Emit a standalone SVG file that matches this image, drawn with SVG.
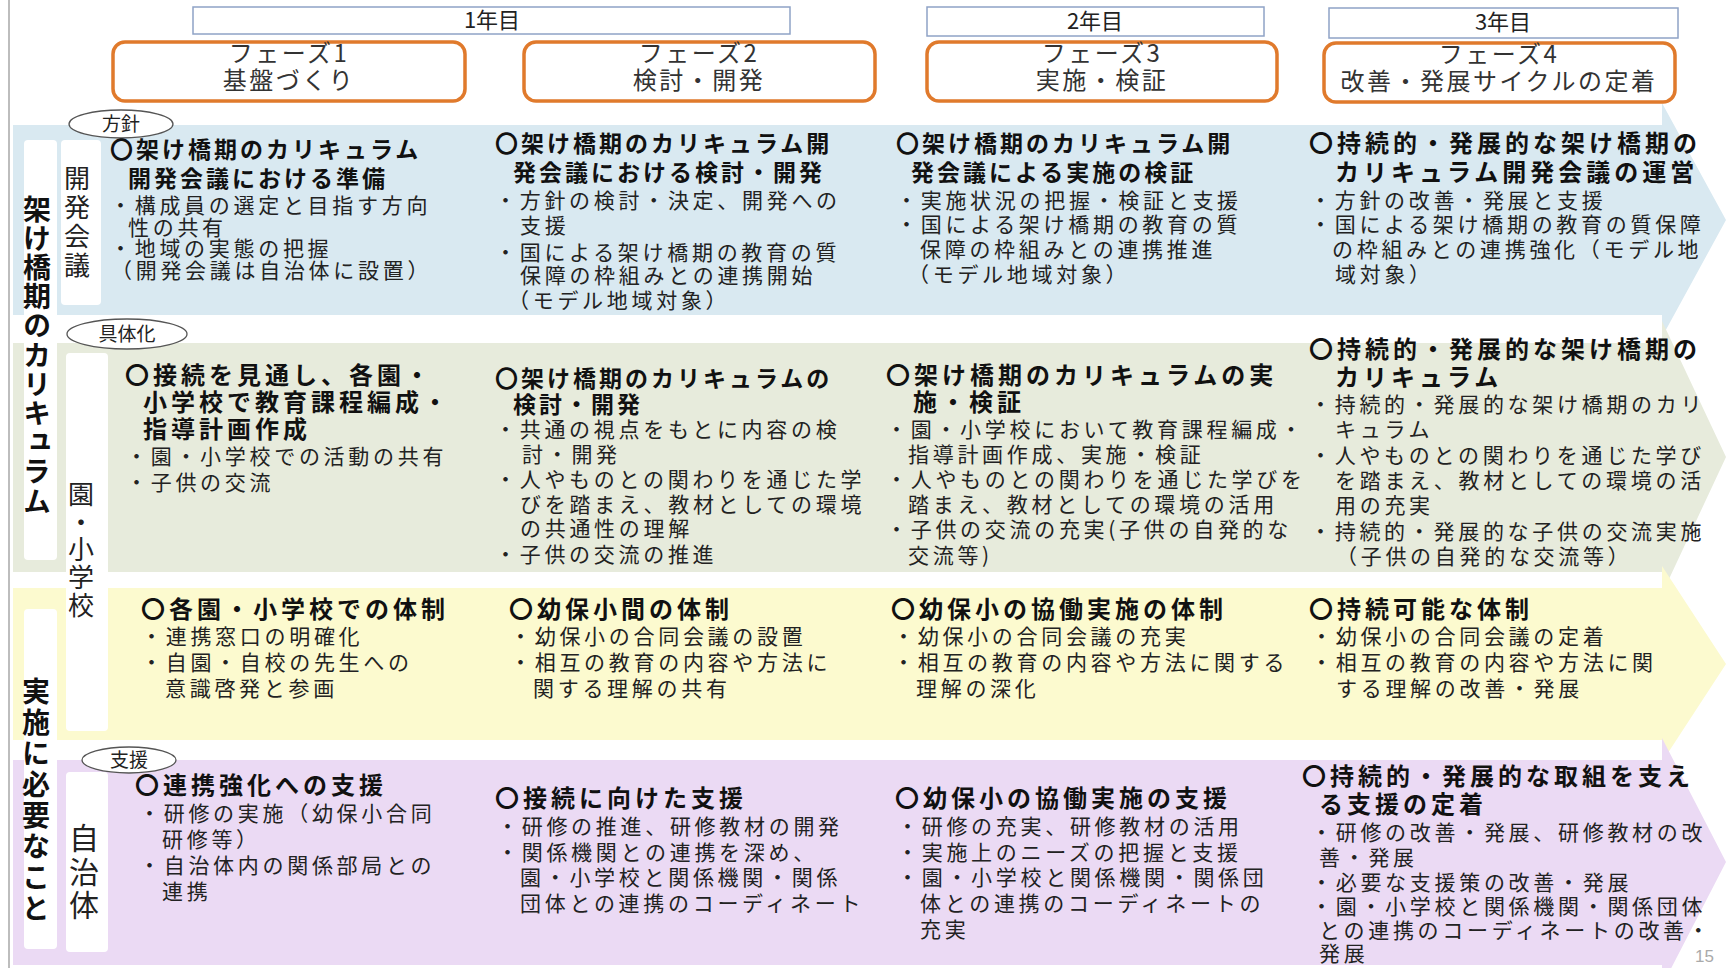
<svg xmlns="http://www.w3.org/2000/svg" width="1726" height="968" viewBox="0 0 1726 968">
<style>
text{font-family:"Noto Sans CJK JP","Noto Sans CJK SC",sans-serif;}
.yr{fill:#fff;stroke:#8fa3c6;stroke-width:1.5;}
.ph{fill:#fff;stroke:#e07a2c;stroke-width:3.5;}
.yt{font-size:22px;fill:#222;text-anchor:middle;}
.pt{font-size:24px;fill:#333;text-anchor:middle;letter-spacing:2.5px;}
.wc{fill:#fff;}
.el{fill:#fff;stroke:#555;stroke-width:1.3;}
.et{font-size:19px;fill:#222;text-anchor:middle;}
.t{font-size:23px;font-weight:700;letter-spacing:3px;fill:#111;}
.t2{font-size:24px;font-weight:700;letter-spacing:4px;fill:#111;}
.b{font-size:21px;letter-spacing:3.7px;fill:#222;}
.vl{font-size:28px;font-weight:700;fill:#111;writing-mode:vertical-rl;}
.vs{font-size:26px;fill:#222;writing-mode:vertical-rl;}
</style>
<rect x="0" y="0" width="1726" height="968" fill="#fff"/>
<line x1="9" y1="0" x2="9" y2="968" stroke="#bdbdbd" stroke-width="2"/>

<g id="bands">
<path id="band1" d="M13,125 H1662 V103 L1726,220 L1662,337 V315 H13 Z" fill="#d9e9f1"/>
<path id="band2" d="M13,343 H1662 V321 L1726,457 L1662,594 V572 H13 Z" fill="#e7ebdc"/>
<path id="band3" d="M13,588 H1662 V566 L1726,664 L1662,762 V740 H13 Z" fill="#fcfacf"/>
<path id="band4" d="M13,760 H1662 V738 L1726,862 L1662,986 V965 H13 Z" fill="#ebdaf4"/>
</g>

<g id="years">
<rect class="yr" x="193" y="7" width="597" height="27"/>
<text class="yt" x="492" y="28">1年目</text>
<rect class="yr" x="927" y="7" width="337" height="29"/>
<text class="yt" x="1095" y="29">2年目</text>
<rect class="yr" x="1329" y="8" width="349" height="30"/>
<text class="yt" x="1503" y="30">3年目</text>
</g>

<g id="phase1">
<rect class="ph" x="113" y="42" width="352" height="59" rx="12"/>
<text class="pt" x="289" y="62">フェーズ1</text>
<text class="pt" x="289" y="89">基盤づくり</text>
</g>
<g id="phase2">
<rect class="ph" x="524" y="42" width="351" height="59" rx="12"/>
<text class="pt" x="699" y="62">フェーズ2</text>
<text class="pt" x="699" y="89">検討・開発</text>
</g>
<g id="phase3">
<rect class="ph" x="927" y="42" width="350" height="59" rx="12"/>
<text class="pt" x="1102" y="62">フェーズ3</text>
<text class="pt" x="1102" y="89">実施・検証</text>
</g>
<g id="phase4">
<rect class="ph" x="1324" y="43" width="351" height="59" rx="12"/>
<text class="pt" x="1499" y="63">フェーズ4</text>
<text class="pt" x="1499" y="90">改善・発展サイクルの定着</text>
</g>

<g id="labels">
<rect class="wc" x="24" y="140" width="33" height="420" rx="4"/>
<rect class="wc" x="24" y="609" width="33" height="340" rx="4"/>
<rect class="wc" x="61" y="140" width="40" height="165" rx="4"/>
<rect class="wc" x="66" y="353" width="42" height="378" rx="4"/>
<rect class="wc" x="66" y="772" width="42" height="180" rx="4"/>
<text class="vl" x="37" y="195" style="letter-spacing:1.2px">架け橋期のカリキュラム</text>
<text class="vl" x="36" y="677" style="letter-spacing:3px">実施に必要なこと</text>
<text class="vs" x="77" y="165" style="letter-spacing:3px">開発会議</text>
<text class="vs" x="81" y="481" style="letter-spacing:1.75px">園・小学校</text>
<text class="vs" x="84" y="823" style="font-size:30px;letter-spacing:3.5px">自治体</text>
<ellipse class="el" cx="121" cy="124" rx="52" ry="14"/>
<text class="et" x="121" y="131">方針</text>
<ellipse class="el" cx="127" cy="334" rx="60" ry="15"/>
<text class="et" x="127" y="341">具体化</text>
<ellipse class="el" cx="129" cy="760" rx="47" ry="13"/>
<text class="et" x="129" y="767">支援</text>
</g>

<g id="b1c1">
<text class="t" x="110" y="158">〇架け橋期のカリキュラム</text>
<text class="t" x="128" y="187">開発会議における準備</text>
<text class="b" x="110" y="213">・構成員の選定と目指す方向</text>
<text class="b" x="128" y="235">性の共有</text>
<text class="b" x="110" y="256">・地域の実態の把握</text>
<text class="b" x="111" y="278">（開発会議は自治体に設置）</text>
</g>
<g id="b1c2">
<text class="t" x="495" y="152">〇架け橋期のカリキュラム開</text>
<text class="t" x="513" y="181">発会議における検討・開発</text>
<text class="b" x="495" y="208">・方針の検討・決定、開発への</text>
<text class="b" x="520" y="233">支援</text>
<text class="b" x="495" y="260">・国による架け橋期の教育の質</text>
<text class="b" x="520" y="283">保障の枠組みとの連携開始</text>
<text class="b" x="508" y="308">（モデル地域対象）</text>
</g>
<g id="b1c3">
<text class="t" x="896" y="152">〇架け橋期のカリキュラム開</text>
<text class="t" x="911" y="181">発会議による実施の検証</text>
<text class="b" x="896" y="208">・実施状況の把握・検証と支援</text>
<text class="b" x="896" y="232">・国による架け橋期の教育の質</text>
<text class="b" x="920" y="257">保障の枠組みとの連携推進</text>
<text class="b" x="908" y="282">（モデル地域対象）</text>
</g>
<g id="b1c4">
<text class="t2" x="1309" y="152">〇持続的・発展的な架け橋期の</text>
<text class="t2" x="1335" y="181">カリキュラム開発会議の運営</text>
<text class="b" x="1310" y="208">・方針の改善・発展と支援</text>
<text class="b" x="1310" y="232">・国による架け橋期の教育の質保障</text>
<text class="b" x="1332" y="257">の枠組みとの連携強化（モデル地</text>
<text class="b" x="1335" y="282">域対象）</text>
</g>

<g id="b2c1">
<text class="t2" x="125" y="384">〇接続を見通し、各園・</text>
<text class="t2" x="143" y="411">小学校で教育課程編成・</text>
<text class="t2" x="143" y="438">指導計画作成</text>
<text class="b" x="126" y="464">・園・小学校での活動の共有</text>
<text class="b" x="126" y="490">・子供の交流</text>
</g>
<g id="b2c2">
<text class="t" x="495" y="387">〇架け橋期のカリキュラムの</text>
<text class="t" x="513" y="413">検討・開発</text>
<text class="b" x="495" y="437">・共通の視点をもとに内容の検</text>
<text class="b" x="522" y="462">討・開発</text>
<text class="b" x="495" y="487">・人やものとの関わりを通じた学</text>
<text class="b" x="520" y="512">びを踏まえ、教材としての環境</text>
<text class="b" x="520" y="536">の共通性の理解</text>
<text class="b" x="495" y="562">・子供の交流の推進</text>
</g>
<g id="b2c3">
<text class="t2" x="886" y="384">〇架け橋期のカリキュラムの実</text>
<text class="t2" x="913" y="411">施・検証</text>
<text class="b" x="886" y="437">・園・小学校において教育課程編成・</text>
<text class="b" x="908" y="462">指導計画作成、実施・検証</text>
<text class="b" x="886" y="487">・人やものとの関わりを通じた学びを</text>
<text class="b" x="908" y="512">踏まえ、教材としての環境の活用</text>
<text class="b" x="886" y="537">・子供の交流の充実(子供の自発的な</text>
<text class="b" x="908" y="563">交流等)</text>
</g>
<g id="b2c4">
<text class="t2" x="1309" y="358">〇持続的・発展的な架け橋期の</text>
<text class="t2" x="1335" y="386">カリキュラム</text>
<text class="b" x="1310" y="412">・持続的・発展的な架け橋期のカリ</text>
<text class="b" x="1335" y="437">キュラム</text>
<text class="b" x="1310" y="463">・人やものとの関わりを通じた学び</text>
<text class="b" x="1335" y="488">を踏まえ、教材としての環境の活</text>
<text class="b" x="1335" y="513">用の充実</text>
<text class="b" x="1310" y="539">・持続的・発展的な子供の交流実施</text>
<text class="b" x="1336" y="564">（子供の自発的な交流等）</text>
</g>

<g id="b3c1">
<text class="t2" x="141" y="618">〇各園・小学校での体制</text>
<text class="b" x="141" y="644">・連携窓口の明確化</text>
<text class="b" x="141" y="670">・自園・自校の先生への</text>
<text class="b" x="165" y="696">意識啓発と参画</text>
</g>
<g id="b3c2">
<text class="t2" x="509" y="618">〇幼保小間の体制</text>
<text class="b" x="510" y="644">・幼保小の合同会議の設置</text>
<text class="b" x="510" y="670">・相互の教育の内容や方法に</text>
<text class="b" x="533" y="696">関する理解の共有</text>
</g>
<g id="b3c3">
<text class="t2" x="891" y="618">〇幼保小の協働実施の体制</text>
<text class="b" x="893" y="644">・幼保小の合同会議の充実</text>
<text class="b" x="893" y="670">・相互の教育の内容や方法に関する</text>
<text class="b" x="916" y="696">理解の深化</text>
</g>
<g id="b3c4">
<text class="t2" x="1309" y="618">〇持続可能な体制</text>
<text class="b" x="1311" y="644">・幼保小の合同会議の定着</text>
<text class="b" x="1311" y="670">・相互の教育の内容や方法に関</text>
<text class="b" x="1336" y="696">する理解の改善・発展</text>
</g>

<g id="b4c1">
<text class="t2" x="135" y="794">〇連携強化への支援</text>
<text class="b" x="139" y="821">・研修の実施（幼保小合同</text>
<text class="b" x="162" y="847">研修等）</text>
<text class="b" x="139" y="873">・自治体内の関係部局との</text>
<text class="b" x="162" y="899">連携</text>
</g>
<g id="b4c2">
<text class="t2" x="495" y="807">〇接続に向けた支援</text>
<text class="b" x="497" y="834">・研修の推進、研修教材の開発</text>
<text class="b" x="497" y="860">・関係機関との連携を深め、</text>
<text class="b" x="520" y="885">園・小学校と関係機関・関係</text>
<text class="b" x="520" y="911">団体との連携のコーディネート</text>
</g>
<g id="b4c3">
<text class="t2" x="895" y="807">〇幼保小の協働実施の支援</text>
<text class="b" x="897" y="834">・研修の充実、研修教材の活用</text>
<text class="b" x="897" y="860">・実施上のニーズの把握と支援</text>
<text class="b" x="897" y="885">・園・小学校と関係機関・関係団</text>
<text class="b" x="920" y="911">体との連携のコーディネートの</text>
<text class="b" x="920" y="937">充実</text>
</g>
<g id="b4c4">
<text class="t2" x="1302" y="785">〇持続的・発展的な取組を支え</text>
<text class="t2" x="1319" y="813">る支援の定着</text>
<text class="b" x="1311" y="840">・研修の改善・発展、研修教材の改</text>
<text class="b" x="1319" y="865">善・発展</text>
<text class="b" x="1311" y="890">・必要な支援策の改善・発展</text>
<text class="b" x="1311" y="914">・園・小学校と関係機関・関係団体</text>
<text class="b" x="1319" y="938">との連携のコーディネートの改善・</text>
<text class="b" x="1319" y="961">発展</text>
</g>
<text x="1695" y="962" style="font-size:17px;fill:#aaa;font-family:'Liberation Sans',sans-serif">15</text>
</svg>
